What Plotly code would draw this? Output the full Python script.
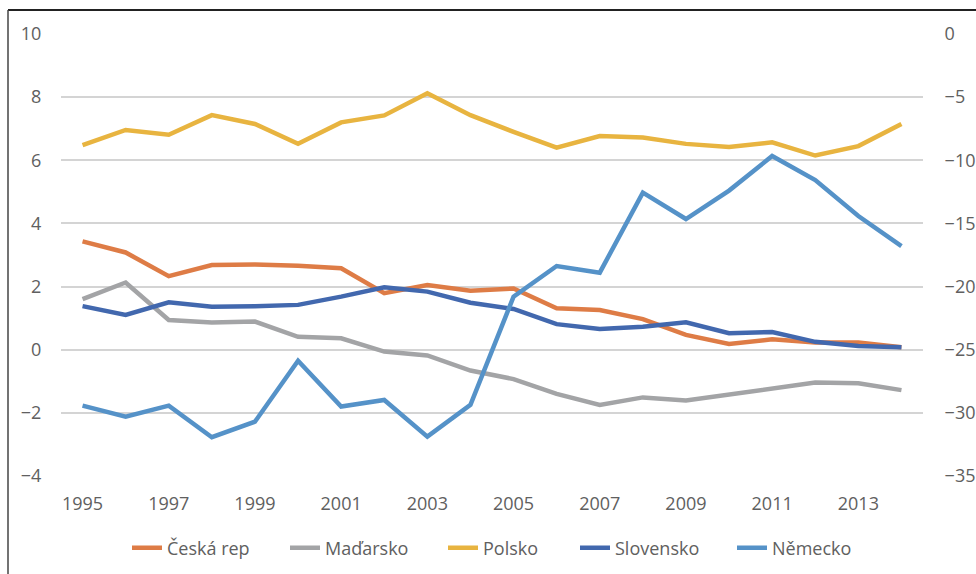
import plotly.graph_objects as go

years = list(range(1995, 2015))
ceska_rep = [3.43, 3.08, 2.33, 2.68, 2.70, 2.66, 2.58, 1.79, 2.05, 1.87, 1.94, 1.31, 1.26, 0.97, 0.47, 0.18, 0.33, 0.23, 0.23, 0.08]
madarsko = [1.60, 2.13, 0.94, 0.86, 0.89, 0.41, 0.36, -0.06, -0.18, -0.66, -0.93, -1.40, -1.75, -1.51, -1.61, -1.43, -1.22, -1.04, -1.06, -1.28]
polsko = [6.48, 6.96, 6.81, 7.43, 7.15, 6.52, 7.20, 7.42, 8.12, 7.43, 6.90, 6.40, 6.77, 6.72, 6.52, 6.42, 6.57, 6.15, 6.45, 7.15]
slovensko = [1.38, 1.10, 1.50, 1.36, 1.38, 1.42, 1.68, 1.98, 1.84, 1.49, 1.29, 0.81, 0.66, 0.73, 0.87, 0.52, 0.56, 0.25, 0.12, 0.08]
nemecko = [-29.43, -30.30, -29.43, -31.93, -30.70, -25.87, -29.50, -28.98, -31.88, -29.37, -20.80, -18.37, -18.90, -12.56, -14.65, -12.40, -9.66, -11.56, -14.41, -16.79]

x_ticks = list(range(1995, 2014, 2))
left_ticks = list(range(-4, 11, 2))
right_ticks = list(range(-35, 1, 5))

series = [
    ("Česká rep", ceska_rep, "#DE7C46", "y"),
    ("Maďarsko", madarsko, "#A3A4A6", "y"),
    ("Polsko", polsko, "#E8B440", "y"),
    ("Slovensko", slovensko, "#4268AE", "y"),
    ("Německo", nemecko, "#5592C8", "y2"),
]

# legend entry left edges (pixels in the figure)
legend_px = [127, 285, 443, 575, 732]
L, R, T, B, W, H = 61, 53, 34, 98, 976, 574
PW, PH = W - L - R, H - T - B

font_color = "#606060"
fig = go.Figure()
legend_layout = {}
for i, (name, vals, color, axis) in enumerate(series):
    key = "legend" if i == 0 else f"legend{i + 1}"
    fig.add_trace(go.Scatter(
        x=years, y=vals, name=name, mode="lines", yaxis=axis,
        line=dict(color=color, width=4.5), legend=key,
    ))
    legend_layout[key] = dict(
        orientation="h", x=(legend_px[i] - L) / PW, xanchor="left",
        y=(H - B - 548) / PH, yanchor="middle",
        font=dict(size=18, color=font_color), bgcolor="rgba(0,0,0,0)",
    )

fig.update_layout(
    width=W, height=H,
    margin=dict(l=L, r=R, t=T, b=B, autoexpand=False),
    paper_bgcolor="white", plot_bgcolor="white",
    font=dict(family="Open Sans, Liberation Sans, sans-serif", size=18, color=font_color),
    showlegend=True,
    xaxis=dict(range=[1994.5, 2014.5], tickmode="array", tickvals=x_ticks,
               showgrid=False, zeroline=False, showline=False, automargin=False,
               ticks="outside", ticklen=11, tickcolor="rgba(0,0,0,0)"),
    yaxis=dict(range=[-4, 10], tickmode="array", tickvals=left_ticks,
               showgrid=True, gridcolor="#D4D4D4", gridwidth=1.5, automargin=False,
               zeroline=False, showline=False,
               ticks="outside", ticklen=15, tickcolor="rgba(0,0,0,0)"),
    yaxis2=dict(range=[-35, 0], tickmode="array", tickvals=right_ticks, automargin=False,
                overlaying="y", side="right", showgrid=False, zeroline=False, showline=False,
                ticks="outside", ticklen=17, tickcolor="rgba(0,0,0,0)"),
    shapes=[
        dict(type="line", xref="paper", yref="paper", layer="above",
             x0=(8 - L) / PW, x1=(W - L) / PW,
             y0=(H - B - 10) / PH, y1=(H - B - 10) / PH,
             line=dict(color="#222222", width=2)),
        dict(type="line", xref="paper", yref="paper", layer="above",
             x0=(8 - L) / PW, x1=(8 - L) / PW,
             y0=(H - B - 10) / PH, y1=(H - B - H) / PH,
             line=dict(color="#444444", width=1.5)),
    ],
    **legend_layout,
)

fig.write_html("out.html", config={"displayModeBar": False},
               post_script="document.body.style.margin='0';document.body.style.overflow='hidden';")
